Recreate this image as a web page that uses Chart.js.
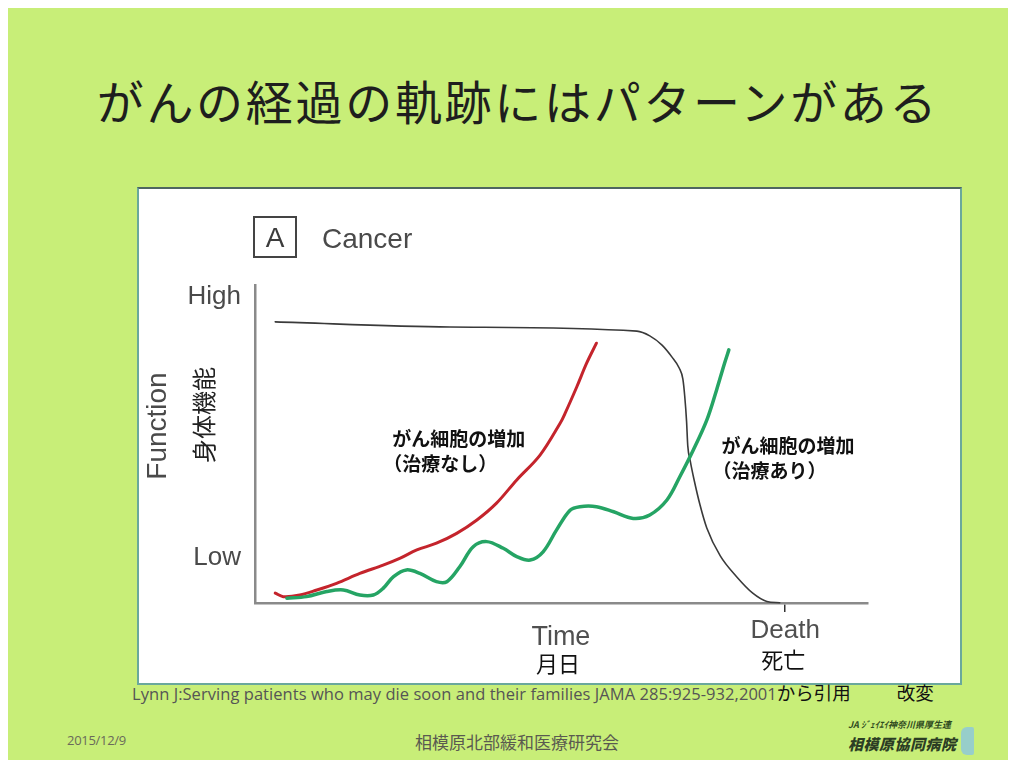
<!DOCTYPE html>
<html lang="ja">
<head>
<meta charset="utf-8">
<title>がんの経過の軌跡にはパターンがある</title>
<script src="https://cdn.jsdelivr.net/npm/chart.js@4.4.1/dist/chart.umd.min.js"></script>
<style>
  html, body { margin: 0; padding: 0; background: #ffffff; }
  body { width: 1016px; height: 767px; position: relative; overflow: hidden; }
  #slide { position: absolute; left: 8px; top: 8px; width: 1000px; height: 752px; background: #c8ee78; }
  #panel { position: absolute; left: 137px; top: 187px; width: 821px; height: 494px;
           background: #ffffff; border: 2px solid #6aa89c; border-top-color: #4e6660; }
  .txt { position: absolute; white-space: nowrap; }
  #title { left: 10px; width: 1016px; top: 70px; text-align: center; font-family: "Noto Sans CJK JP", sans-serif;
           font-size: 47px; letter-spacing: 2.7px; color: #1e1e1e; line-height: 60px; }
  #cite { left: 132px; top: 681px; font-family: "Open Sans", sans-serif; font-size: 16.5px; color: #555; line-height: 22px; letter-spacing: 0.05px; }
  #cite span { font-family: "Noto Sans CJK JP", sans-serif; font-size: 18.5px; color: #111; letter-spacing: 0; }
  #cite span.gap { margin-left: 46px; }
  #date { left: 67px; top: 731px; font-family: "Open Sans", sans-serif; font-size: 13px; color: #6a6a5a; letter-spacing: -0.3px; }
  #society { left: 415px; top: 729px; font-family: "Noto Sans CJK JP", sans-serif; font-size: 17px; color: #5a5a50; }
  #logoTop { left: 848px; top: 718px; font-family: "Noto Sans CJK JP", sans-serif; font-size: 9px; font-weight: 700; color: #2e4a20; font-style: italic; }
  #logoMain { left: 848px; top: 733px; font-family: "Noto Sans CJK JP", sans-serif; font-size: 15px; font-weight: 900; color: #2c3e24; font-style: italic; letter-spacing: 0.5px; }
  #logoMark { left: 961px; top: 727px; width: 13px; height: 28px; background: #8ec8d8; border-radius: 6px 2px 2px 6px; opacity: 0.85; }
  #chart { position: absolute; left: 0; top: 0; }
</style>
</head>
<body>
<div id="slide"></div>
<div id="panel"></div>
<div class="txt" id="title">がんの経過の軌跡にはパターンがある</div>
<div class="txt" id="cite">Lynn J:Serving patients who may die soon and their families JAMA 285:925-932,2001<span>から引用</span><span class="gap">改変</span></div>
<div class="txt" id="date">2015/12/9</div>
<div class="txt" id="society">相模原北部緩和医療研究会</div>
<div class="txt" id="logoTop">JA ｼﾞｪｲｴｲ神奈川県厚生連</div>
<div class="txt" id="logoMain">相模原協同病院</div>
<div class="txt" id="logoMark"></div>
<canvas id="chart" width="1016" height="767"></canvas>
<script>
// Time axis runs 0–100 up to the end of the plot, function axis 0 (Low) – 100 (High).

// Physical function over the course of the illness
const functionX = [3.3, 31.8, 62.3, 64.4, 66.4, 68.0, 69.2, 69.8, 70.1, 70.4, 70.6, 71.0, 71.6, 72.6, 73.7, 75.9, 78.6, 81.2, 83.5, 85.6];
const functionY = [88.4, 86.8, 85.5, 84.0, 81.1, 77.4, 73.9, 70.4, 65.1, 57.2, 49.4, 44.7, 39.0, 30.8, 23.6, 14.8, 8.2, 3.1, 0.5, 0.1];

// Cancer cell growth without treatment
const untreatedX = [3.3, 4.6, 7.3, 10.1, 13.3, 17.1, 20.9, 23.7, 26.4, 29.6, 32.9, 36.2, 39.4, 42.7, 46.5, 49.8, 50.6, 52.5, 54.1, 55.7];
const untreatedY = [3.1, 2.0, 2.5, 4.1, 6.2, 9.3, 11.9, 14.1, 16.7, 18.8, 21.9, 26.1, 31.4, 38.7, 46.5, 56.6, 59.7, 68.0, 75.4, 81.7];

// Cancer cell growth with treatment
const treatedX = [5.2, 8.4, 11.7, 14.4, 17.1, 19.3, 20.9, 22.6, 24.7, 26.9, 29.6, 31.3, 33.4, 35.6, 37.8, 40.5, 42.7, 44.9, 47.0, 49.2, 51.4, 53.0, 55.7, 58.5, 61.7, 64.4, 67.2, 69.3, 71.5, 73.7, 75.3, 76.6, 77.3];
const treatedY = [1.5, 2.0, 3.6, 4.1, 2.5, 2.5, 4.6, 8.3, 10.4, 9.3, 6.7, 6.7, 11.4, 17.7, 19.3, 17.2, 14.6, 13.5, 16.1, 23.0, 29.2, 30.3, 30.3, 28.7, 26.6, 27.7, 32.4, 39.7, 48.1, 57.5, 67.0, 75.4, 79.6];

// Axis labels
const levelLabels = ["Low", "High"];
const levelValues = [14.2, 96.2];
const timeLabel = ["Time", "月日"];
const timeAt = 49.9;
const deathLabel = ["Death", "死亡"];
const deathAt = 86.5;

const curveNotes = [
  { lines: ["がん細胞の増加", "（治療なし）"], x: 22.4, y: 51.5 },
  { lines: ["がん細胞の増加", "（治療あり）"], x: 76.1, y: 49.3 }
];

const toPoints = (xs, ys) => xs.map((x, i) => ({ x, y: ys[i] }));

const annotations = {
  id: "annotations",
  afterDraw(chart) {
    const { ctx, chartArea, scales: { x, y } } = chart;
    ctx.save();
    ctx.textBaseline = "middle";

    // panel heading
    ctx.strokeStyle = "#444";
    ctx.lineWidth = 2;
    ctx.strokeRect(254, 217, 42, 40);
    ctx.fillStyle = "#3c3c3c";
    ctx.font = "28px 'Liberation Sans', Arial, sans-serif";
    ctx.textAlign = "center";
    ctx.fillText("A", 275, 239);
    ctx.textAlign = "left";
    ctx.fillStyle = "#4a4a4a";
    ctx.fillText("Cancer", 322, 240);

    // level labels on the function axis
    ctx.font = "26px 'Liberation Sans', Arial, sans-serif";
    ctx.textAlign = "right";
    ctx.fillStyle = "#4a4a4a";
    levelLabels.forEach((t, i) => ctx.fillText(t, chartArea.left - 14, y.getPixelForValue(levelValues[i])));

    // axis titles, rotated
    ctx.save();
    ctx.translate(158, 426);
    ctx.rotate(-Math.PI / 2);
    ctx.textAlign = "center";
    ctx.font = "28px 'Liberation Sans', Arial, sans-serif";
    ctx.fillStyle = "#4a4a4a";
    ctx.fillText("Function", 0, 0);
    ctx.restore();
    ctx.save();
    ctx.translate(204, 415);
    ctx.rotate(-Math.PI / 2);
    ctx.textAlign = "center";
    ctx.font = "24px 'Noto Sans CJK JP', sans-serif";
    ctx.fillStyle = "#222";
    ctx.fillText("身体機能", 0, 0);
    ctx.restore();

    // time axis labels
    ctx.textAlign = "center";
    const tx = x.getPixelForValue(timeAt);
    ctx.font = "27px 'Liberation Sans', Arial, sans-serif";
    ctx.fillStyle = "#505050";
    ctx.fillText(timeLabel[0], tx, 638);
    ctx.font = "22px 'Noto Sans CJK JP', sans-serif";
    ctx.fillStyle = "#111";
    ctx.fillText(timeLabel[1], tx - 3, 664);

    const dx = x.getPixelForValue(deathAt);
    ctx.font = "26px 'Liberation Sans', Arial, sans-serif";
    ctx.fillStyle = "#505050";
    ctx.fillText(deathLabel[0], dx, 631);
    ctx.font = "22px 'Noto Sans CJK JP', sans-serif";
    ctx.fillStyle = "#111";
    ctx.fillText(deathLabel[1], dx - 2, 660);

    // curve notes
    ctx.textAlign = "left";
    ctx.font = "bold 19px 'Noto Sans CJK JP', sans-serif";
    ctx.fillStyle = "#111";
    curveNotes.forEach(n => {
      const px = x.getPixelForValue(n.x);
      const py = y.getPixelForValue(n.y);
      n.lines.forEach((line, i) => ctx.fillText(line, px - (i ? 9 : 0), py + i * 25));
    });
    ctx.restore();
  }
};

new Chart(document.getElementById("chart"), {
  type: "line",
  data: {
    datasets: [
      { label: "がん細胞の増加（治療あり）", data: toPoints(treatedX, treatedY),
        borderColor: "#25a464", borderWidth: 3.5, tension: 0.35 },
      { label: "がん細胞の増加（治療なし）", data: toPoints(untreatedX, untreatedY),
        borderColor: "#c4242c", borderWidth: 3, tension: 0.35 },
      { label: "身体機能", data: toPoints(functionX, functionY),
        borderColor: "#3a3a3a", borderWidth: 1.6, cubicInterpolationMode: "monotone" }
    ]
  },
  options: {
    responsive: false,
    animation: false,
    events: [],
    layout: { padding: { left: 255, right: 148, top: 285, bottom: 155 } },
    elements: {
      point: { radius: 0 },
      line: { borderCapStyle: "round", borderJoinStyle: "round", fill: false }
    },
    datasets: { line: { clip: false } },
    plugins: { legend: { display: false }, tooltip: { enabled: false }, title: { display: false } },
    scales: {
      x: {
        type: "linear", min: 0, max: 100,
        afterBuildTicks: axis => { axis.ticks = [{ value: deathAt }]; },
        ticks: { display: false },
        grid: { display: true, drawOnChartArea: false, drawTicks: true, tickLength: 9, color: "#333", lineWidth: 1.5 },
        border: { display: true, color: "#8a8a8a", width: 2.5 }
      },
      y: {
        type: "linear", min: 0, max: 100,
        ticks: { display: false },
        grid: { display: false, drawTicks: false },
        border: { display: true, color: "#8a8a8a", width: 2.5 }
      }
    }
  },
  plugins: [annotations]
});
</script>
</body>
</html>
